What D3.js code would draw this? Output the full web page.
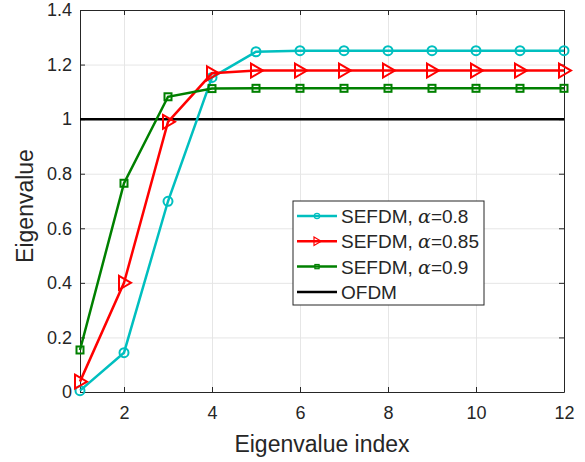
<!DOCTYPE html>
<meta charset="utf-8">
<style>
  body { margin: 0; background: #fff; }
  text { font-family: "Liberation Sans", Arial, sans-serif; fill: #262626; }
  .grid line { stroke: #e6e6e6; }
  .grid .domain { display: none; }
</style>
<body>
<script src="https://d3js.org/d3.v7.min.js"></script>
<script>
  var idx = [1, 2, 3, 4, 5, 6, 7, 8, 9, 10, 11, 12];
  var a08 = [0.005, 0.144, 0.699, 1.153, 1.247, 1.251, 1.251, 1.251, 1.251, 1.251, 1.251, 1.251];
  var a085 = [0.038, 0.400, 0.990, 1.168, 1.178, 1.178, 1.178, 1.178, 1.178, 1.178, 1.178, 1.178];
  var a09 = [0.154, 0.765, 1.082, 1.112, 1.113, 1.113, 1.113, 1.113, 1.113, 1.113, 1.113, 1.113];
  var ofdm = [1, 1];
  var xTicks = [2, 4, 6, 8, 10, 12];
  var yTicks = [0, 0.2, 0.4, 0.6, 0.8, 1, 1.2, 1.4];

  var series = [
    { name: "0.8", vals: a08, color: "#00bfbf", marker: "circle" },
    { name: "0.85", vals: a085, color: "#ff0000", marker: "tri" },
    { name: "0.9", vals: a09, color: "#008000", marker: "square" }
  ];

  var margin = { top: 10, right: 21, bottom: 70, left: 80 },
    width = 585 - margin.left - margin.right,
    height = 462 - margin.top - margin.bottom;

  var x = d3.scaleLinear().domain([1, 12]).range([0, width]);
  var y = d3.scaleLinear().domain([0, 1.4]).range([height, 0]);

  var svg = d3.select("body").append("svg")
    .attr("width", 585).attr("height", 462)
    .append("g")
    .attr("transform", "translate(" + margin.left + "," + margin.top + ")");

  // grid
  svg.append("g").attr("class", "grid")
    .attr("transform", "translate(0," + height + ")")
    .call(d3.axisBottom(x).tickValues(xTicks).tickSize(-height).tickFormat(""));
  svg.append("g").attr("class", "grid")
    .call(d3.axisLeft(y).tickValues(yTicks).tickSize(-width).tickFormat(""));

  // axes (ticks inward, box)
  function styleAxis(g) {
    g.selectAll(".domain").attr("stroke", "#262626");
    g.selectAll(".tick line").attr("stroke", "#262626");
    g.selectAll(".tick text").style("font-size", "18px").attr("fill", "#262626");
  }
  svg.append("g")
    .attr("transform", "translate(0," + height + ")")
    .call(d3.axisBottom(x).tickValues(xTicks).tickSize(-5).tickSizeOuter(0).tickPadding(14))
    .call(styleAxis);
  svg.append("g")
    .call(d3.axisLeft(y).tickValues(yTicks).tickFormat(d3.format("")).tickSize(-5).tickSizeOuter(0).tickPadding(8))
    .call(styleAxis);
  svg.append("g")
    .call(d3.axisTop(x).tickValues(xTicks).tickSize(-5).tickSizeOuter(0).tickFormat(""))
    .call(styleAxis);
  svg.append("g")
    .attr("transform", "translate(" + width + ",0)")
    .call(d3.axisRight(y).tickValues(yTicks).tickSize(-5).tickSizeOuter(0).tickFormat(""))
    .call(styleAxis);

  // OFDM reference
  svg.append("line")
    .attr("x1", x(1)).attr("x2", x(12))
    .attr("y1", y(ofdm[0])).attr("y2", y(ofdm[1]))
    .attr("stroke", "#000").attr("stroke-width", 2.5);

  var line = d3.line().x(function (d, i) { return x(idx[i]); }).y(function (d) { return y(d); });

  function drawMarker(g, type, color, cx, cy) {
    if (type === "circle") {
      g.append("circle").attr("cx", cx).attr("cy", cy).attr("r", 4.5)
        .attr("fill", "none").attr("stroke", color).attr("stroke-width", 2);
    } else if (type === "tri") {
      g.append("path")
        .attr("d", "M" + (cx - 5) + "," + (cy - 7) + "L" + (cx + 7) + "," + cy + "L" + (cx - 5) + "," + (cy + 7) + "Z")
        .attr("fill", "none").attr("stroke", color).attr("stroke-width", 2);
    } else {
      g.append("rect").attr("x", cx - 3.5).attr("y", cy - 3.5).attr("width", 7).attr("height", 7)
        .attr("fill", "none").attr("stroke", color).attr("stroke-width", 2);
    }
  }

  series.forEach(function (s) {
    var g = svg.append("g");
    g.append("path").datum(s.vals).attr("d", line)
      .attr("fill", "none").attr("stroke", s.color).attr("stroke-width", 2.5);
    s.vals.forEach(function (v, i) { drawMarker(g, s.marker, s.color, x(idx[i]), y(v)); });
  });

  // axis labels
  svg.append("text")
    .attr("x", width / 2).attr("y", height + 60)
    .attr("text-anchor", "middle").style("font-size", "23px")
    .text("Eigenvalue index");
  svg.append("text")
    .attr("transform", "translate(-47," + (height / 2 + 5) + ") rotate(-90)")
    .attr("text-anchor", "middle").style("font-size", "23px")
    .text("Eigenvalue");

  // legend
  var lg = svg.append("g").attr("transform", "translate(" + (293 - margin.left) + "," + (201 - margin.top) + ")");
  lg.append("rect").attr("width", 191).attr("height", 104)
    .attr("fill", "#fff").attr("stroke", "#262626").attr("stroke-width", 1);
  var items = series.concat([{ name: null, color: "#000", marker: null }]);
  items.forEach(function (s, i) {
    var yy = 15 + i * 25.3;
    lg.append("line").attr("x1", 4).attr("x2", 44).attr("y1", yy).attr("y2", yy)
      .attr("stroke", s.color).attr("stroke-width", 2.5);
    if (s.marker) {
      var mg = lg.append("g").attr("transform", "translate(24," + yy + ") scale(0.6) translate(-24," + (-yy) + ")");
      drawMarker(mg, s.marker, s.color, 24, yy);
    }
    var t = lg.append("text").attr("x", 48).attr("y", yy + 7).style("font-size", "19px").attr("fill", "#000");
    if (s.name) {
      t.append("tspan").text("SEFDM, ");
      t.append("tspan").style("font-family", "'DejaVu Serif', serif").style("font-style", "italic").text("α");
      t.append("tspan").text("=" + s.name);
    } else {
      t.text("OFDM");
    }
  });
</script>
</body>
